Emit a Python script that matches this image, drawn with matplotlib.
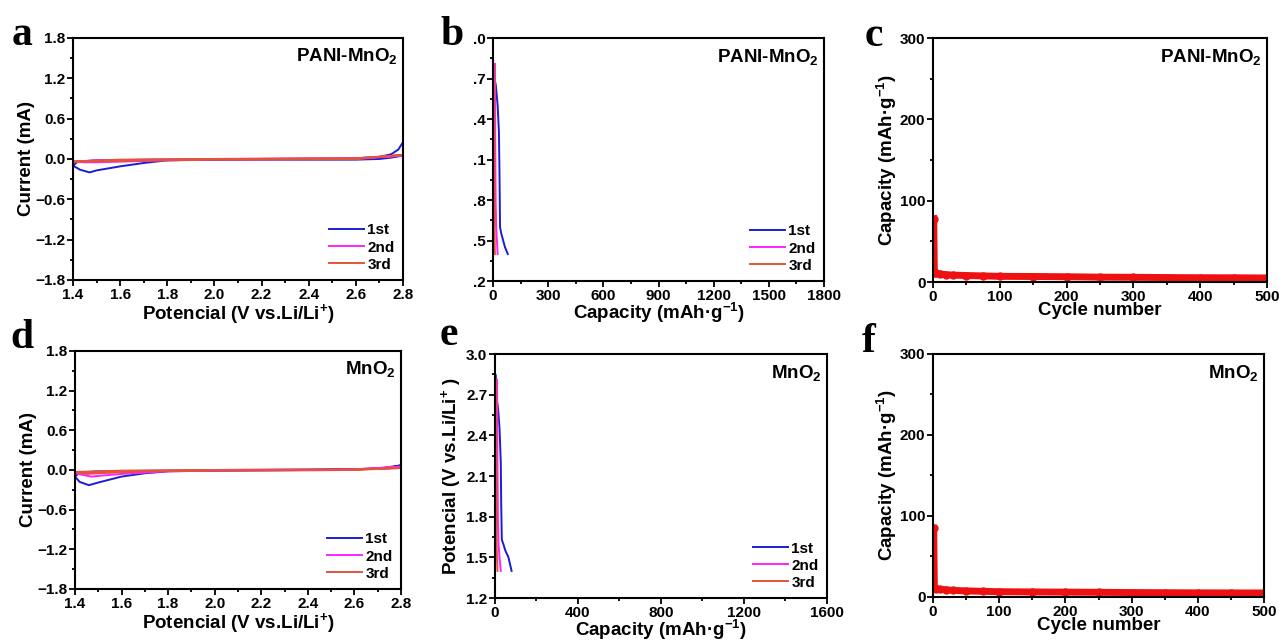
import numpy as np
import matplotlib
matplotlib.use('Agg')
import matplotlib.pyplot as plt
from matplotlib.ticker import MultipleLocator

plt.rcParams['font.family'] = ['Liberation Sans', 'DejaVu Sans']
plt.rcParams['font.weight'] = 'bold'
plt.rcParams['mathtext.default'] = 'regular'

BLUE = '#1c1cd6'
PINK = '#ff22ff'
RED3 = '#e2553c'
RED = '#ee1111'

# ---- CV data (closed loops: 2.8 -> 1.4 -> 2.8) ----
cv_a_v1 = [2.8, 2.75, 2.7, 2.6, 2.4, 2.0, 1.8, 1.7, 1.6, 1.5, 1.47, 1.43, 1.4,
           1.42, 1.5, 1.8, 2.2, 2.6, 2.7, 2.75, 2.78, 2.8]
cv_a_i1 = [0.05, 0.02, 0.0, -0.01, -0.01, -0.01, -0.02, -0.06, -0.11, -0.17, -0.2, -0.16, -0.1,
           -0.04, -0.02, -0.01, 0.0, 0.01, 0.03, 0.07, 0.14, 0.25]
cv_a_v2 = [2.8, 2.6, 2.0, 1.8, 1.6, 1.5, 1.45, 1.4, 1.5, 2.0, 2.6, 2.8]
cv_a_i2 = [0.05, 0.0, -0.01, -0.02, -0.04, -0.05, -0.05, -0.04, -0.02, 0.0, 0.01, 0.05]
cv_a_v3 = [2.8, 2.6, 2.0, 1.6, 1.4, 1.6, 2.0, 2.6, 2.8]
cv_a_i3 = [0.06, 0.0, -0.01, -0.03, -0.04, -0.01, 0.0, 0.01, 0.06]

cv_d_v1 = [2.8, 2.7, 2.4, 2.0, 1.8, 1.7, 1.6, 1.5, 1.46, 1.42, 1.4,
           1.42, 1.5, 1.8, 2.2, 2.6, 2.75, 2.8]
cv_d_i1 = [0.07, 0.02, 0.0, -0.01, -0.02, -0.05, -0.1, -0.19, -0.23, -0.18, -0.1,
           -0.04, -0.02, -0.01, 0.0, 0.01, 0.03, 0.07]
cv_d_v2 = [2.8, 2.6, 2.0, 1.8, 1.6, 1.5, 1.47, 1.4, 1.5, 2.0, 2.6, 2.8]
cv_d_i2 = [0.05, 0.0, -0.01, -0.02, -0.06, -0.09, -0.1, -0.05, -0.03, 0.0, 0.01, 0.05]
cv_d_v3 = [2.8, 2.6, 2.0, 1.7, 1.5, 1.45, 1.4, 1.6, 2.0, 2.6, 2.8]
cv_d_i3 = [0.03, 0.0, -0.01, -0.02, -0.05, -0.06, -0.03, -0.01, 0.0, 0.01, 0.03]

# ---- charge/discharge data ----
gcd_b_c1 = [0, 1, 2, 5, 15, 25, 32, 35, 38, 45, 55, 65, 80]
gcd_b_v1 = [1.4, 2.0, 2.75, 2.72, 2.65, 2.5, 2.3, 2.0, 1.6, 1.55, 1.5, 1.45, 1.4]
gcd_b_c2 = [0, 4, 8, 10, 11, 12, 14, 17, 21, 25]
gcd_b_v2 = [1.4, 2.0, 2.6, 2.81, 2.6, 2.2, 1.8, 1.6, 1.5, 1.4]
gcd_b_c3 = [0, 2, 4, 5, 6, 7, 8, 10]
gcd_b_v3 = [1.4, 2.0, 2.6, 2.8, 2.4, 1.9, 1.6, 1.4]

gcd_e_c1 = [0, 1, 2, 5, 15, 22, 28, 30, 33, 40, 50, 65, 80]
gcd_e_v1 = [1.4, 2.0, 2.85, 2.7, 2.6, 2.45, 2.2, 1.9, 1.63, 1.6, 1.55, 1.5, 1.4]
gcd_e_c2 = [0, 4, 8, 10, 11, 12, 14, 17, 22, 28]
gcd_e_v2 = [1.4, 2.0, 2.6, 2.81, 2.6, 2.2, 1.8, 1.6, 1.5, 1.4]
gcd_e_c3 = [0, 2, 4, 5, 6, 7, 8, 12]
gcd_e_v3 = [1.4, 2.0, 2.6, 2.8, 2.4, 1.9, 1.6, 1.4]

# ---- cycling data ----
cyc_n = [1, 2, 3, 5, 10, 20, 30, 50, 75, 100, 150, 200, 250, 300, 350, 400, 450, 500]
cyc_c = [78, 12, 11, 10.5, 10, 9, 8.5, 8, 7.5, 7, 6.8, 6.5, 6, 5.8, 5.5, 5.3, 5.2, 5]
cyc_f = [85, 11, 10.5, 10, 9.5, 8.8, 8.2, 7.5, 7, 6.5, 6.2, 6, 5.8, 5.5, 5.3, 5.1, 5, 5]

fig = plt.figure(figsize=(12.79, 6.42), dpi=100)


def style(ax, xlim, xmaj, xmin, ylim, ymaj, ymin):
    ax.set_xlim(*xlim)
    ax.set_ylim(*ylim)
    ax.xaxis.set_major_locator(MultipleLocator(xmaj))
    ax.xaxis.set_minor_locator(MultipleLocator(xmin))
    ax.yaxis.set_major_locator(MultipleLocator(ymaj))
    ax.yaxis.set_minor_locator(MultipleLocator(ymin))
    ax.tick_params(which='both', direction='out', top=False, right=False,
                   labelsize=11, width=1.3, pad=1.5)
    ax.tick_params(which='major', length=4)
    ax.tick_params(which='minor', length=2)
    for sp in ax.spines.values():
        sp.set_linewidth(1.5)
    for lab in ax.get_xticklabels() + ax.get_yticklabels():
        lab.set_fontweight('bold')


def tag(ax, s):
    ax.text(0.985, 0.965, s, transform=ax.transAxes, ha='right', va='top',
            fontsize=13.5, fontweight='bold')


def leg(ax):
    ax.legend(loc='lower right', frameon=False, handlelength=2.3,
              labelspacing=0.2, borderaxespad=0.15, handletextpad=0.2,
              prop={'weight': 'bold', 'size': 11})


def cv_panel(rect, v1, i1, v2, i2, v3, i3, name):
    ax = fig.add_axes(rect)
    ax.plot(v1, i1, color=BLUE, lw=1.4, label='1st')
    ax.plot(v2, i2, color=PINK, lw=1.4, label='2nd')
    ax.plot(v3, i3, color=RED3, lw=1.4, label='3rd')
    style(ax, (1.4, 2.8), 0.2, 0.1, (-1.8, 1.8), 0.6, 0.3)
    ax.set_ylabel('Current (mA)', fontsize=13.5, fontweight='bold', labelpad=0)
    ax.set_xlabel('Potencial (V vs.Li/Li$^{+}$)', fontsize=13.5, fontweight='bold', labelpad=0)
    tag(ax, name)
    leg(ax)
    return ax


def gcd_panel(rect, c1, v1, c2, v2, c3, v3, name, xmax, xmaj, xmin):
    ax = fig.add_axes(rect)
    ax.plot(c1, v1, color=BLUE, lw=1.4, label='1st')
    ax.plot(c2, v2, color=PINK, lw=1.4, label='2nd')
    ax.plot(c3, v3, color=RED3, lw=1.4, label='3rd')
    style(ax, (0, xmax), xmaj, xmin, (1.2, 3.0), 0.3, 0.15)
    ax.set_xlabel('Capacity (mAh·g$^{-1}$)', fontsize=13.5, fontweight='bold', labelpad=-1)
    tag(ax, name)
    leg(ax)
    return ax


def cyc_panel(rect, n, c, name):
    ax = fig.add_axes(rect)
    ax.plot(n, c, color=RED, lw=5, marker='o', ms=5, mec=RED, mfc=RED)
    style(ax, (0, 500), 100, 50, (0, 300), 100, 50)
    ax.set_xlabel('Cycle number', fontsize=13.5, fontweight='bold', labelpad=-1)
    ax.set_ylabel('Capacity (mAh·g$^{-1}$)', fontsize=13.5, fontweight='bold', labelpad=1)
    tag(ax, name)
    return ax


cv_panel([0.0571, 0.5639, 0.258, 0.377], cv_a_v1, cv_a_i1, cv_a_v2, cv_a_i2,
         cv_a_v3, cv_a_i3, 'PANI-MnO$_2$')
axb = gcd_panel([0.3855, 0.5623, 0.2588, 0.3785], gcd_b_c1, gcd_b_v1, gcd_b_c2, gcd_b_v2,
                gcd_b_c3, gcd_b_v3, 'PANI-MnO$_2$', 1800, 300, 150)
axb.set_yticks([1.2, 1.5, 1.8, 2.1, 2.4, 2.7, 3.0])
axb.set_yticklabels(['.2', '.5', '.8', '.1', '.4', '.7', '.0'], fontweight='bold')
cyc_panel([0.7295, 0.5607, 0.2611, 0.380], cyc_n, cyc_c, 'PANI-MnO$_2$')

cv_panel([0.0586, 0.0826, 0.2549, 0.3707], cv_d_v1, cv_d_i1, cv_d_v2, cv_d_i2,
         cv_d_v3, cv_d_i3, 'MnO$_2$')
axe = gcd_panel([0.387, 0.0685, 0.2596, 0.380], gcd_e_c1, gcd_e_v1, gcd_e_c2, gcd_e_v2,
                gcd_e_c3, gcd_e_v3, 'MnO$_2$', 1600, 400, 200)
axe.set_ylabel('Potencial (V vs.Li/Li$^{+}$ )', fontsize=13.5, fontweight='bold', labelpad=2)
cyc_panel([0.7295, 0.0701, 0.2588, 0.3785], cyc_n, cyc_f, 'MnO$_2$')

# panel letters
for s, x, y in [('a', 12, 45), ('b', 440, 45), ('c', 865, 46),
                ('d', 10, 348), ('e', 440, 345), ('f', 862, 352)]:
    fig.text(x / 1279, 1 - y / 642, s, fontsize=30, fontweight='bold',
             family=['Liberation Serif', 'DejaVu Serif'], va='baseline', ha='left')

fig.savefig('out.png', dpi=100)
